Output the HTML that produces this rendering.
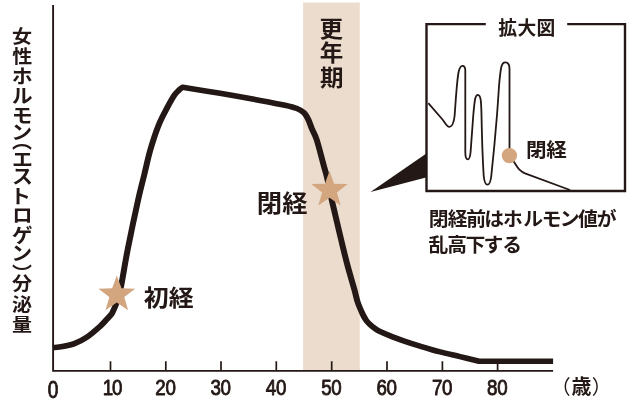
<!DOCTYPE html>
<html lang="ja">
<head>
<meta charset="utf-8">
<title>女性ホルモン（エストロゲン）分泌量と年齢</title>
<style>
html,body{margin:0;padding:0;background:#fff;}
body{width:640px;height:400px;overflow:hidden;position:relative;font-family:"Liberation Sans","Noto Sans CJK JP",sans-serif;color:#231815;}
svg{position:absolute;left:0;top:0;display:block;}
text{font-family:"Liberation Sans","Noto Sans CJK JP",sans-serif;fill:#231815;}
.num{font-family:"Liberation Sans",sans-serif;}
</style>
</head>
<body>
<svg width="640" height="400" viewBox="0 0 640 400">
<rect width="640" height="400" fill="#fff"/>

<rect x="303.1" y="2.5" width="56.7" height="368.5" fill="#ebdccd"/>
<path d="M53.1 5V370.9H553.1" fill="none" stroke="#231815" stroke-width="1.9"/>
<path d="M110.5 361.2V371M165.8 361.2V371M221 361.2V371M276.3 361.2V371M331.7 361.2V371M387 361.2V371M442.4 361.2V371M497.6 361.2V371" fill="none" stroke="#231815" stroke-width="1.7"/>
<path transform="scale(1.07 1)" d="M49.53 347.60 C51.01 347.43 54.98 347.32 58.41 346.60 C61.84 345.88 66.20 344.95 70.09 343.30 C73.99 341.65 77.88 339.52 81.78 336.70 C85.67 333.88 90.54 329.20 93.46 326.40 C96.38 323.60 97.46 322.00 99.30 319.90 C101.14 317.80 103.62 314.82 104.49 313.80 C105.22 312.00 107.48 307.38 108.88 303.00 C110.28 298.62 111.17 296.33 112.90 287.50 C114.63 278.67 116.56 264.58 119.25 250.00 C121.95 235.42 126.48 212.50 129.07 200.00 C131.65 187.50 132.87 183.33 134.77 175.00 C136.67 166.67 138.21 158.33 140.47 150.00 C142.73 141.67 145.67 132.08 148.32 125.00 C150.97 117.92 153.89 112.50 156.36 107.50 C158.82 102.50 161.21 97.95 163.08 95.00 C164.95 92.05 166.31 91.10 167.57 89.80 C168.83 88.50 170.14 87.63 170.65 87.20 C176.48 88.22 193.55 91.10 205.61 93.30 C217.66 95.50 232.87 98.42 242.99 100.40 C253.12 102.38 260.59 103.85 266.36 105.20 C272.12 106.55 274.61 107.23 277.57 108.50 C280.53 109.77 282.35 110.97 284.11 112.80 C285.87 114.63 286.88 116.80 288.13 119.50 C289.38 122.20 290.26 125.58 291.59 129.00 C292.91 132.42 294.27 134.00 296.07 140.00 C297.88 146.00 300.84 158.75 302.43 165.00 C304.02 171.25 304.41 172.00 305.61 177.50 C306.81 183.00 308.33 191.75 309.63 198.00 C310.92 204.25 311.82 208.00 313.36 215.00 C314.91 222.00 316.99 231.67 318.88 240.00 C320.76 248.33 322.60 256.67 324.67 265.00 C326.74 273.33 329.69 283.75 331.31 290.00 C332.93 296.25 333.05 298.33 334.39 302.50 C335.73 306.67 338.02 312.00 339.35 315.00 C340.67 318.00 341.26 318.92 342.34 320.50 C343.41 322.08 344.44 323.17 345.79 324.50 C347.15 325.83 348.91 327.33 350.47 328.50 C352.02 329.67 352.49 330.15 355.14 331.50 C357.79 332.85 362.46 334.97 366.36 336.60 C370.25 338.23 374.14 339.72 378.50 341.30 C382.87 342.88 387.07 344.33 392.52 346.10 C397.98 347.87 404.98 350.15 411.21 351.90 C417.45 353.65 423.83 355.03 429.91 356.60 C435.98 358.17 444.70 360.52 447.66 361.30 L516.92 361.3" fill="none" stroke="#231815" stroke-width="5.6" stroke-linejoin="round"/>
<polygon points="116.8,275.4 121.5,288.3 135.2,288.7 124.3,297.1 128.1,310.3 116.8,302.6 105.5,310.3 109.3,297.1 98.4,288.7 112.1,288.3" fill="#d3a680"/>
<polygon points="329.5,170.9 334.1,183.7 347.7,184.1 336.9,192.4 340.7,205.5 329.5,197.8 318.3,205.5 322.1,192.4 311.3,184.1 324.9,183.7" fill="#d3a680"/>
<path d="M485.8 24.1H426.5V191H625V24.1H567.2" fill="none" stroke="#231815" stroke-width="2.4"/>
<polygon points="426,153.8 426,177.5 370.5,192" fill="#231815"/>
<path d="M428.3 103.2 L442.5 119.5 C445 122.5 446.8 126.8 449.2 126.8 C452.2 126.8 453.8 123 454.6 116 C455.6 103 456.8 81 458.6 72 C459.5 68 460.7 65.8 462.4 65.8 C464.3 65.8 465.3 67.5 465.3 70.5 L465.3 152 C465.3 156 466.3 159.4 467.8 159.4 C469.3 159.4 470.2 156 470.6 152 C471.5 140 472.5 125 473.3 115 C474 107 474.5 102 475.2 98.5 C475.8 96.5 476.6 94.9 477.75 94.9 C479.2 94.9 480.3 97 480.75 100.3 C481.2 104 481.4 110 481.5 115 C482 140 483 165 483.75 176.25 C484.3 181.5 485.5 184.7 487.5 184.7 C489.5 184.7 490.6 181.5 491.25 176.25 C493 160 495.8 130 497 115 C497.8 105 498.4 95 499.1 85 C499.7 78 500.4 71.5 501.3 67 C502.1 64 503.4 62.3 505.3 62.3 C507.8 62.3 509.5 64.5 509.5 69 L509.5 155.6 L512 159 C515 163 517 167.5 519.4 169.7 C521.5 171.7 523 172.6 525 173.4 L570 190" fill="none" stroke="#231815" stroke-width="1.8" stroke-linejoin="round"/>
<circle cx="509.4" cy="155.6" r="7.7" fill="#d3a680"/>
<text transform="scale(1.07 1)" font-weight="700" style="writing-mode:vertical-rl"><tspan x="19.58 19.77" y="26.90 47.05" font-size="18.7">女性</tspan><tspan x="19.41 19.11 19.46 18.91" y="66.45 85.05 105.60 122.35" font-size="20">ホルモン</tspan><tspan x="19.58" y="131.55" font-size="18.7">（</tspan><tspan x="19.46 19.46 17.76 19.46 19.41 18.91" y="149.60 166.85 186.40 205.40 225.15 243.85" font-size="20">エストロゲン</tspan><tspan x="19.58" y="263.95" font-size="18.7">）</tspan><tspan x="19.63 19.53 19.58" y="273.51 294.10 314.30" font-size="18.7">分泌量</tspan></text>
<text transform="scale(1.06 1)" x="310.48 310.75 311.14" y="17.35 41.96 66.29" font-size="22.2" font-weight="700" style="writing-mode:vertical-rl">更年期</text>
<text transform="scale(1.09 1)" x="131.92 154.94" y="305.72" font-size="22.9" font-weight="700">初経</text>
<text transform="scale(1.06 1)" x="242.33 266.22" y="212.45" font-size="23.9" font-weight="700">閉経</text>
<text transform="scale(1 1)" x="498.35 517.40 536.50" y="34.61" font-size="18.8" font-weight="700">拡大図</text>
<text transform="scale(1.04 1)" x="505.72 525.25" y="156.52" font-size="19.8" font-weight="700">閉経</text>
<text transform="scale(1.03 1)" x="416.37 434.72 452.73 470.21 488.41 507.97 525.94 543.51 561.13 579.43" y="226.07" font-size="19.2" font-weight="700">閉経前はホルモン値が</text>
<text transform="scale(1.03 1)" x="415.98 434.28 452.05 469.38 487.58" y="251.57" font-size="19.2" font-weight="700">乱高下する</text>
<text y="394.36" font-size="19.9" font-weight="400"><tspan x="550.67">（</tspan><tspan x="571.50" font-weight="700">歳</tspan><tspan x="591.71">）</tspan></text>
<text class="num" transform="translate(53 398.3) scale(0.82 1)" font-size="23.3" text-anchor="middle" letter-spacing="0" stroke="#231815" stroke-width="0.9" stroke-linejoin="round">0</text>
<text class="num" transform="translate(112 395.4) scale(0.82 1)" font-size="22.9" text-anchor="middle" letter-spacing="-1.5" stroke="#231815" stroke-width="0.9" stroke-linejoin="round">10</text>
<text class="num" transform="translate(165.4 395.4) scale(0.82 1)" font-size="22.9" text-anchor="middle" letter-spacing="-0.4" stroke="#231815" stroke-width="0.9" stroke-linejoin="round">20</text>
<text class="num" transform="translate(220.6 395.4) scale(0.82 1)" font-size="22.9" text-anchor="middle" letter-spacing="-0.4" stroke="#231815" stroke-width="0.9" stroke-linejoin="round">30</text>
<text class="num" transform="translate(275.9 395.4) scale(0.82 1)" font-size="22.9" text-anchor="middle" letter-spacing="-0.4" stroke="#231815" stroke-width="0.9" stroke-linejoin="round">40</text>
<text class="num" transform="translate(331.3 395.4) scale(0.82 1)" font-size="22.9" text-anchor="middle" letter-spacing="-0.4" stroke="#231815" stroke-width="0.9" stroke-linejoin="round">50</text>
<text class="num" transform="translate(386.6 395.4) scale(0.82 1)" font-size="22.9" text-anchor="middle" letter-spacing="-0.4" stroke="#231815" stroke-width="0.9" stroke-linejoin="round">60</text>
<text class="num" transform="translate(442 395.4) scale(0.82 1)" font-size="22.9" text-anchor="middle" letter-spacing="-0.4" stroke="#231815" stroke-width="0.9" stroke-linejoin="round">70</text>
<text class="num" transform="translate(497.2 395.4) scale(0.82 1)" font-size="22.9" text-anchor="middle" letter-spacing="-0.4" stroke="#231815" stroke-width="0.9" stroke-linejoin="round">80</text>
</svg>
</body>
</html>
